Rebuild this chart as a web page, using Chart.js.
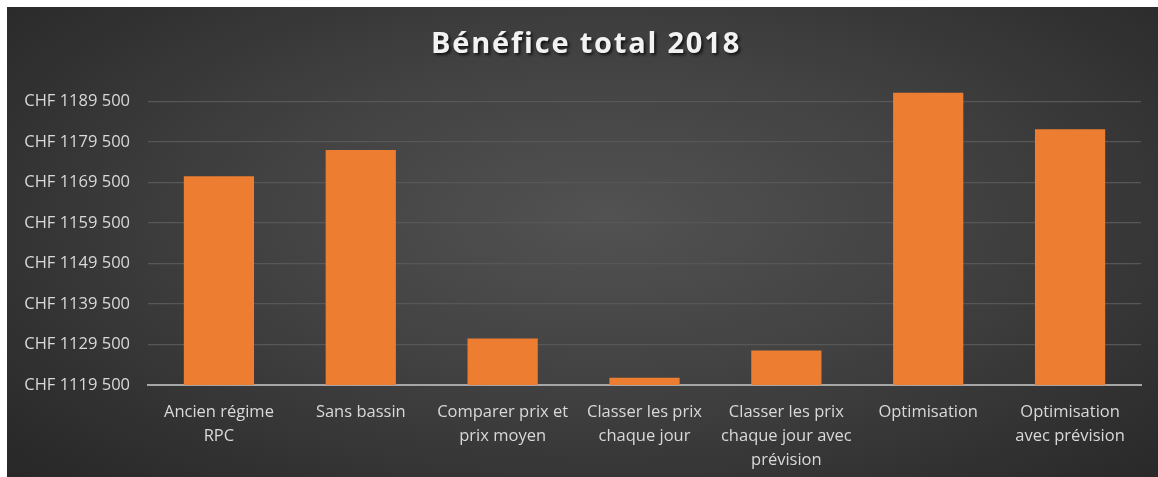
<!DOCTYPE html>
<html>
<head>
<meta charset="utf-8">
<script src="https://cdn.jsdelivr.net/npm/chart.js@4.4.1/dist/chart.umd.min.js"></script>
<style>
    html, body { margin: 0; padding: 0; background: #ffffff; }
    #wrap {
        position: absolute;
        left: 7px;
        top: 7px;
        width: 1151px;
        height: 470px;
        background: radial-gradient(ellipse 70% 80% at 52% 45%, #525252 0%, #414141 45%, #2e2e2e 85%, #282828 100%);
    }
</style>
</head>
<body>
<div id="wrap"><canvas id="beneficeChart" width="1151" height="470"></canvas></div>
<script>
const chartTitle = 'Bénéfice total 2018';
const categories = [
    ['Ancien régime', 'RPC'],
    ['Sans bassin'],
    ['Comparer prix et', 'prix moyen'],
    ['Classer les prix', 'chaque jour'],
    ['Classer les prix', 'chaque jour avec', 'prévision'],
    ['Optimisation'],
    ['Optimisation', 'avec prévision'],
];
const benefice = [1171000, 1177500, 1131000, 1121300, 1128000, 1191600, 1182600];
const yTicks = [1119500, 1129500, 1139500, 1149500, 1159500, 1169500, 1179500, 1189500];

// formats 1189500 as "CHF 1189 500"
const formatChf = (v) => {
    const s = String(Math.round(v));
    return 'CHF ' + s.slice(0, s.length - 3) + ' ' + s.slice(-3);
};

// title drawn with letter spacing and a soft shadow, like the office chart
const shadowTitle = {
    id: 'shadowTitle',
    afterDraw(chart) {
        const ctx = chart.ctx;
        ctx.save();
        ctx.font = 'bold 29px "Open Sans"';
        ctx.letterSpacing = '1.8px';
        ctx.fillStyle = '#f2f2f2';
        ctx.textAlign = 'center';
        ctx.textBaseline = 'middle';
        ctx.shadowColor = 'rgba(0, 0, 0, 0.7)';
        ctx.shadowOffsetX = 2;
        ctx.shadowOffsetY = 2;
        ctx.shadowBlur = 3;
        ctx.fillText(chartTitle, 579, 38);
        ctx.restore();
    },
};

document.addEventListener('DOMContentLoaded', () => {
    const ctx = document.getElementById('beneficeChart').getContext('2d');

    new Chart(ctx, {
        type: 'bar',
        data: {
            labels: categories,
            datasets: [
                {
                    label: chartTitle,
                    data: benefice,
                    backgroundColor: '#ed7d31',
                    borderWidth: 0,
                    barPercentage: 0.495,
                    categoryPercentage: 1.0,
                },
            ],
        },
        options: {
            responsive: false,
            animation: false,
            layout: {
                padding: { top: 83, right: 17, bottom: 0, left: 0 },
            },
            plugins: {
                legend: { display: false },
                title: { display: false },
                tooltip: { enabled: false },
            },
            scales: {
                x: {
                    grid: { display: false },
                    border: { color: '#a6a6a6', width: 2 },
                    ticks: {
                        color: '#d9d9d9',
                        font: { family: 'Open Sans', size: 16.5, lineHeight: 1.46 },
                        padding: 7,
                        maxRotation: 0,
                        autoSkip: false,
                    },
                    afterFit: (scale) => { scale.height = 92; },
                },
                y: {
                    min: 1119500,
                    max: 1192300,
                    border: { display: false },
                    grid: { color: '#575757', lineWidth: 1.3, drawTicks: false },
                    afterBuildTicks: (scale) => {
                        scale.ticks = yTicks.map((v) => ({ value: v }));
                    },
                    ticks: {
                        color: '#d9d9d9',
                        font: { family: 'Open Sans', size: 16.5 },
                        padding: 18,
                        callback: (v) => formatChf(v),
                    },
                    afterFit: (scale) => { scale.width = 141; },
                },
            },
        },
        plugins: [shadowTitle],
    });
});
</script>
</body>
</html>
